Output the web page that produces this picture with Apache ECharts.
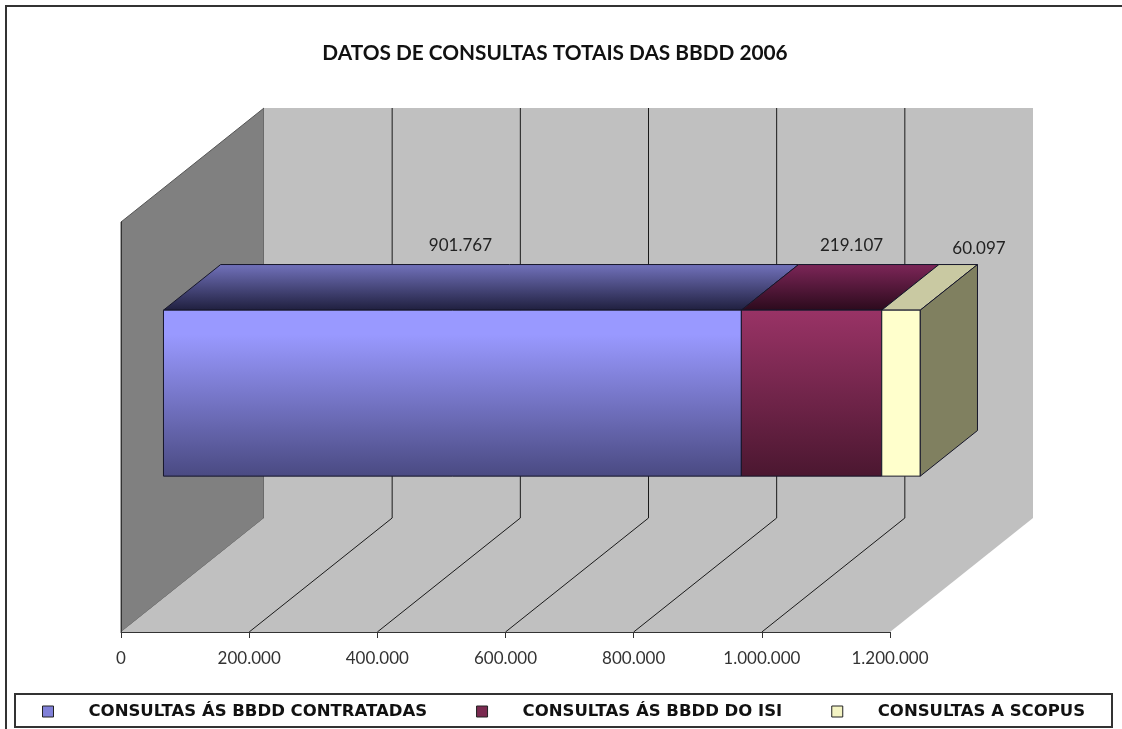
<!DOCTYPE html>
<html>
<head>
<meta charset="utf-8">
<script src="https://cdn.jsdelivr.net/npm/echarts@6/dist/echarts.min.js"></script>
<style>
  html, body { margin: 0; padding: 0; background: #fff; }
  #chart { width: 1122px; height: 729px; }
</style>
</head>
<body>
<div id="chart"></div>
<script>
const titleText = "DATOS DE CONSULTAS TOTAIS DAS BBDD 2006";
const categories = ["2006"];
const seriesNames = ["CONSULTAS ÁS BBDD CONTRATADAS", "CONSULTAS ÁS BBDD DO ISI", "CONSULTAS A SCOPUS"];
const contratadas = [901767];
const isi = [219107];
const scopus = [60097];
const tickValues = [0, 200000, 400000, 600000, 800000, 1000000, 1200000];

const FONT = "Lato, 'Open Sans', sans-serif";
const LEGEND_FONT = "'DejaVu Sans', sans-serif";
const DEPTH_X = 143, DEPTH_Y = 114;
const BAR_NEAR = 0.297, BAR_FAR = 0.697;
const EDGE = "#16162a";

// front / top gradient stops for each segment, plus where its label sits
const looks = [
  { front: ["#9999ff", "#9999ff", "#4a4a82"], top: ["#7272bc", "#1f1f3e"], legend: "#8080d8", nudge: [8, -65] },
  { front: ["#993366", "#8e2f5e", "#4b1730"], top: ["#7d2658", "#2b0a1c"], legend: "#7a2a50", nudge: [40, -65] },
  { front: ["#ffffcc", "#ffffcc", "#ffffcc"], top: ["#c9c9a2", "#c9c9a2"], legend: "#f4f4c4", nudge: [78, -62] }
];

const dotted = (v) => String(v).replace(/\B(?=(\d{3})+$)/g, ".");
const vgrad = (a, b, c) => ({
  type: "linear", x: 0, y: 0, x2: 0, y2: 1,
  colorStops: c === undefined
    ? [{ offset: 0, color: a }, { offset: 1, color: b }]
    : [{ offset: 0, color: a }, { offset: 0.15, color: b }, { offset: 1, color: c }]
});
const poly = (points, fill, stroke, z2) => ({
  type: "polygon",
  z2: z2 || 0,
  shape: { points },
  style: { fill, stroke: stroke || null, lineWidth: stroke ? 1 : 0 }
});
const line = (a, b, color) => ({
  type: "line",
  shape: { x1: a[0], y1: a[1], x2: b[0], y2: b[1] },
  style: { stroke: color, lineWidth: 1 }
});

function renderWalls(params, api) {
  const box = params.coordSys;
  const x0 = box.x, x1 = box.x + box.width, top = box.y, bot = box.y + box.height;
  const children = [
    poly([[x0, top], [x0 + DEPTH_X, top - DEPTH_Y], [x0 + DEPTH_X, bot - DEPTH_Y], [x0, bot]], "#808080", "#555555"),
    poly([[x0 + DEPTH_X, top - DEPTH_Y], [x1 + DEPTH_X, top - DEPTH_Y], [x1 + DEPTH_X, bot - DEPTH_Y], [x0 + DEPTH_X, bot - DEPTH_Y]], "#c0c0c0"),
    poly([[x0, bot], [x0 + DEPTH_X, bot - DEPTH_Y], [x1 + DEPTH_X, bot - DEPTH_Y], [x1, bot]], "#c0c0c0")
  ];
  tickValues.slice(1, -1).forEach((t) => {
    const x = api.coord([t, categories[0]])[0];
    children.push(line([x, bot], [x + DEPTH_X, bot - DEPTH_Y], "#1a1a1a"));
    children.push(line([x + DEPTH_X, bot - DEPTH_Y], [x + DEPTH_X, top - DEPTH_Y], "#1a1a1a"));
  });
  return { type: "group", children };
}

function segmentRenderer(index, startValue, isLast) {
  return function (params, api) {
    const value = api.value(0);
    const mid = api.coord([0, categories[0]]);
    const bandH = api.size([0, 1])[1] / 2.47;
    const nearX = DEPTH_X * BAR_NEAR, nearY = DEPTH_Y * BAR_NEAR;
    const farX = DEPTH_X * BAR_FAR, farY = DEPTH_Y * BAR_FAR;
    const xa = api.coord([startValue, categories[0]])[0] + nearX;
    const xb = api.coord([startValue + value, categories[0]])[0] + nearX;
    const yt = mid[1] - nearY - bandH / 2;
    const yb = yt + bandH;
    const dx = farX - nearX, dy = farY - nearY;
    const look = looks[index];
    const children = [
      poly([[xa, yt], [xb, yt], [xb + dx, yt - dy], [xa + dx, yt - dy]], vgrad(look.top[0], look.top[1]), EDGE),
      poly([[xa, yt], [xb, yt], [xb, yb], [xa, yb]], vgrad(look.front[0], look.front[1], look.front[2]), EDGE)
    ];
    if (isLast) {
      children.push(poly([[xb, yt], [xb + dx, yt - dy], [xb + dx, yb - dy], [xb, yb]], "#808060", EDGE));
    }
    children.push({
      type: "text",
      style: {
        x: (xa + xb) / 2 + look.nudge[0],
        y: yt + look.nudge[1],
        text: dotted(value),
        font: "17px " + FONT,
        fill: "#222",
        align: "center",
        verticalAlign: "middle"
      }
    });
    return { type: "group", children };
  };
}

const chart = echarts.init(document.getElementById("chart"));

const values = [contratadas, isi, scopus];
let running = 0;
const barSeries = values.map((vals, i) => {
  const s = {
    name: seriesNames[i],
    type: "custom",
    z: 3 + i,
    coordinateSystem: "cartesian2d",
    encode: { x: 0, y: 1 },
    renderItem: segmentRenderer(i, running, i === values.length - 1),
    itemStyle: { color: looks[i].legend },
    data: vals.map((v) => [v, categories[0]])
  };
  running += vals[0];
  return s;
});

chart.setOption({
  animation: false,
  backgroundColor: "#fff",
  title: {
    text: titleText,
    left: 550,
    top: 38,
    textAlign: "center",
    textStyle: { fontFamily: FONT, fontSize: 20.8, fontWeight: "bold", color: "#111" }
  },
  grid: { left: 121, top: 222, width: 769, height: 410 },
  xAxis: {
    type: "value",
    min: 0,
    max: 1200000,
    interval: 200000,
    z: 10,
    axisLine: { show: true, lineStyle: { color: "#333", width: 1 } },
    axisTick: { show: true, length: 6, lineStyle: { color: "#333" } },
    axisLabel: { color: "#333", fontFamily: FONT, fontSize: 17, margin: 18, formatter: dotted },
    splitLine: { show: false }
  },
  yAxis: {
    type: "category",
    data: categories,
    z: 10,
    axisLine: { show: true, onZero: false, lineStyle: { color: "#333", width: 1 } },
    axisTick: { show: false },
    axisLabel: { show: false }
  },
  legend: {
    left: 42,
    top: 703,
    padding: 0,
    itemGap: 49,
    itemWidth: 11,
    itemHeight: 11,
    icon: "rect",
    data: seriesNames.map((name, i) => ({
      name,
      itemStyle: { color: looks[i].legend, borderColor: "#222", borderWidth: 1 }
    })),
    selectedMode: false,
    textStyle: { fontFamily: LEGEND_FONT, fontSize: 16.5, fontWeight: "bold", color: "#111", padding: [0, 0, 0, 30] }
  },
  graphic: [
    { type: "rect", silent: true, z: -1, shape: { x: 6, y: 6, width: 1130, height: 740 }, style: { fill: null, stroke: "#333", lineWidth: 2 } },
    { type: "rect", silent: true, z: -1, shape: { x: 15, y: 694, width: 1097, height: 33 }, style: { fill: "#fff", stroke: "#333", lineWidth: 2 } }
  ],
  series: [
    {
      type: "custom",
      name: "walls",
      z: 1,
      coordinateSystem: "cartesian2d",
      renderItem: renderWalls,
      data: [[0, categories[0]]]
    }
  ].concat(barSeries)
});
</script>
</body>
</html>
